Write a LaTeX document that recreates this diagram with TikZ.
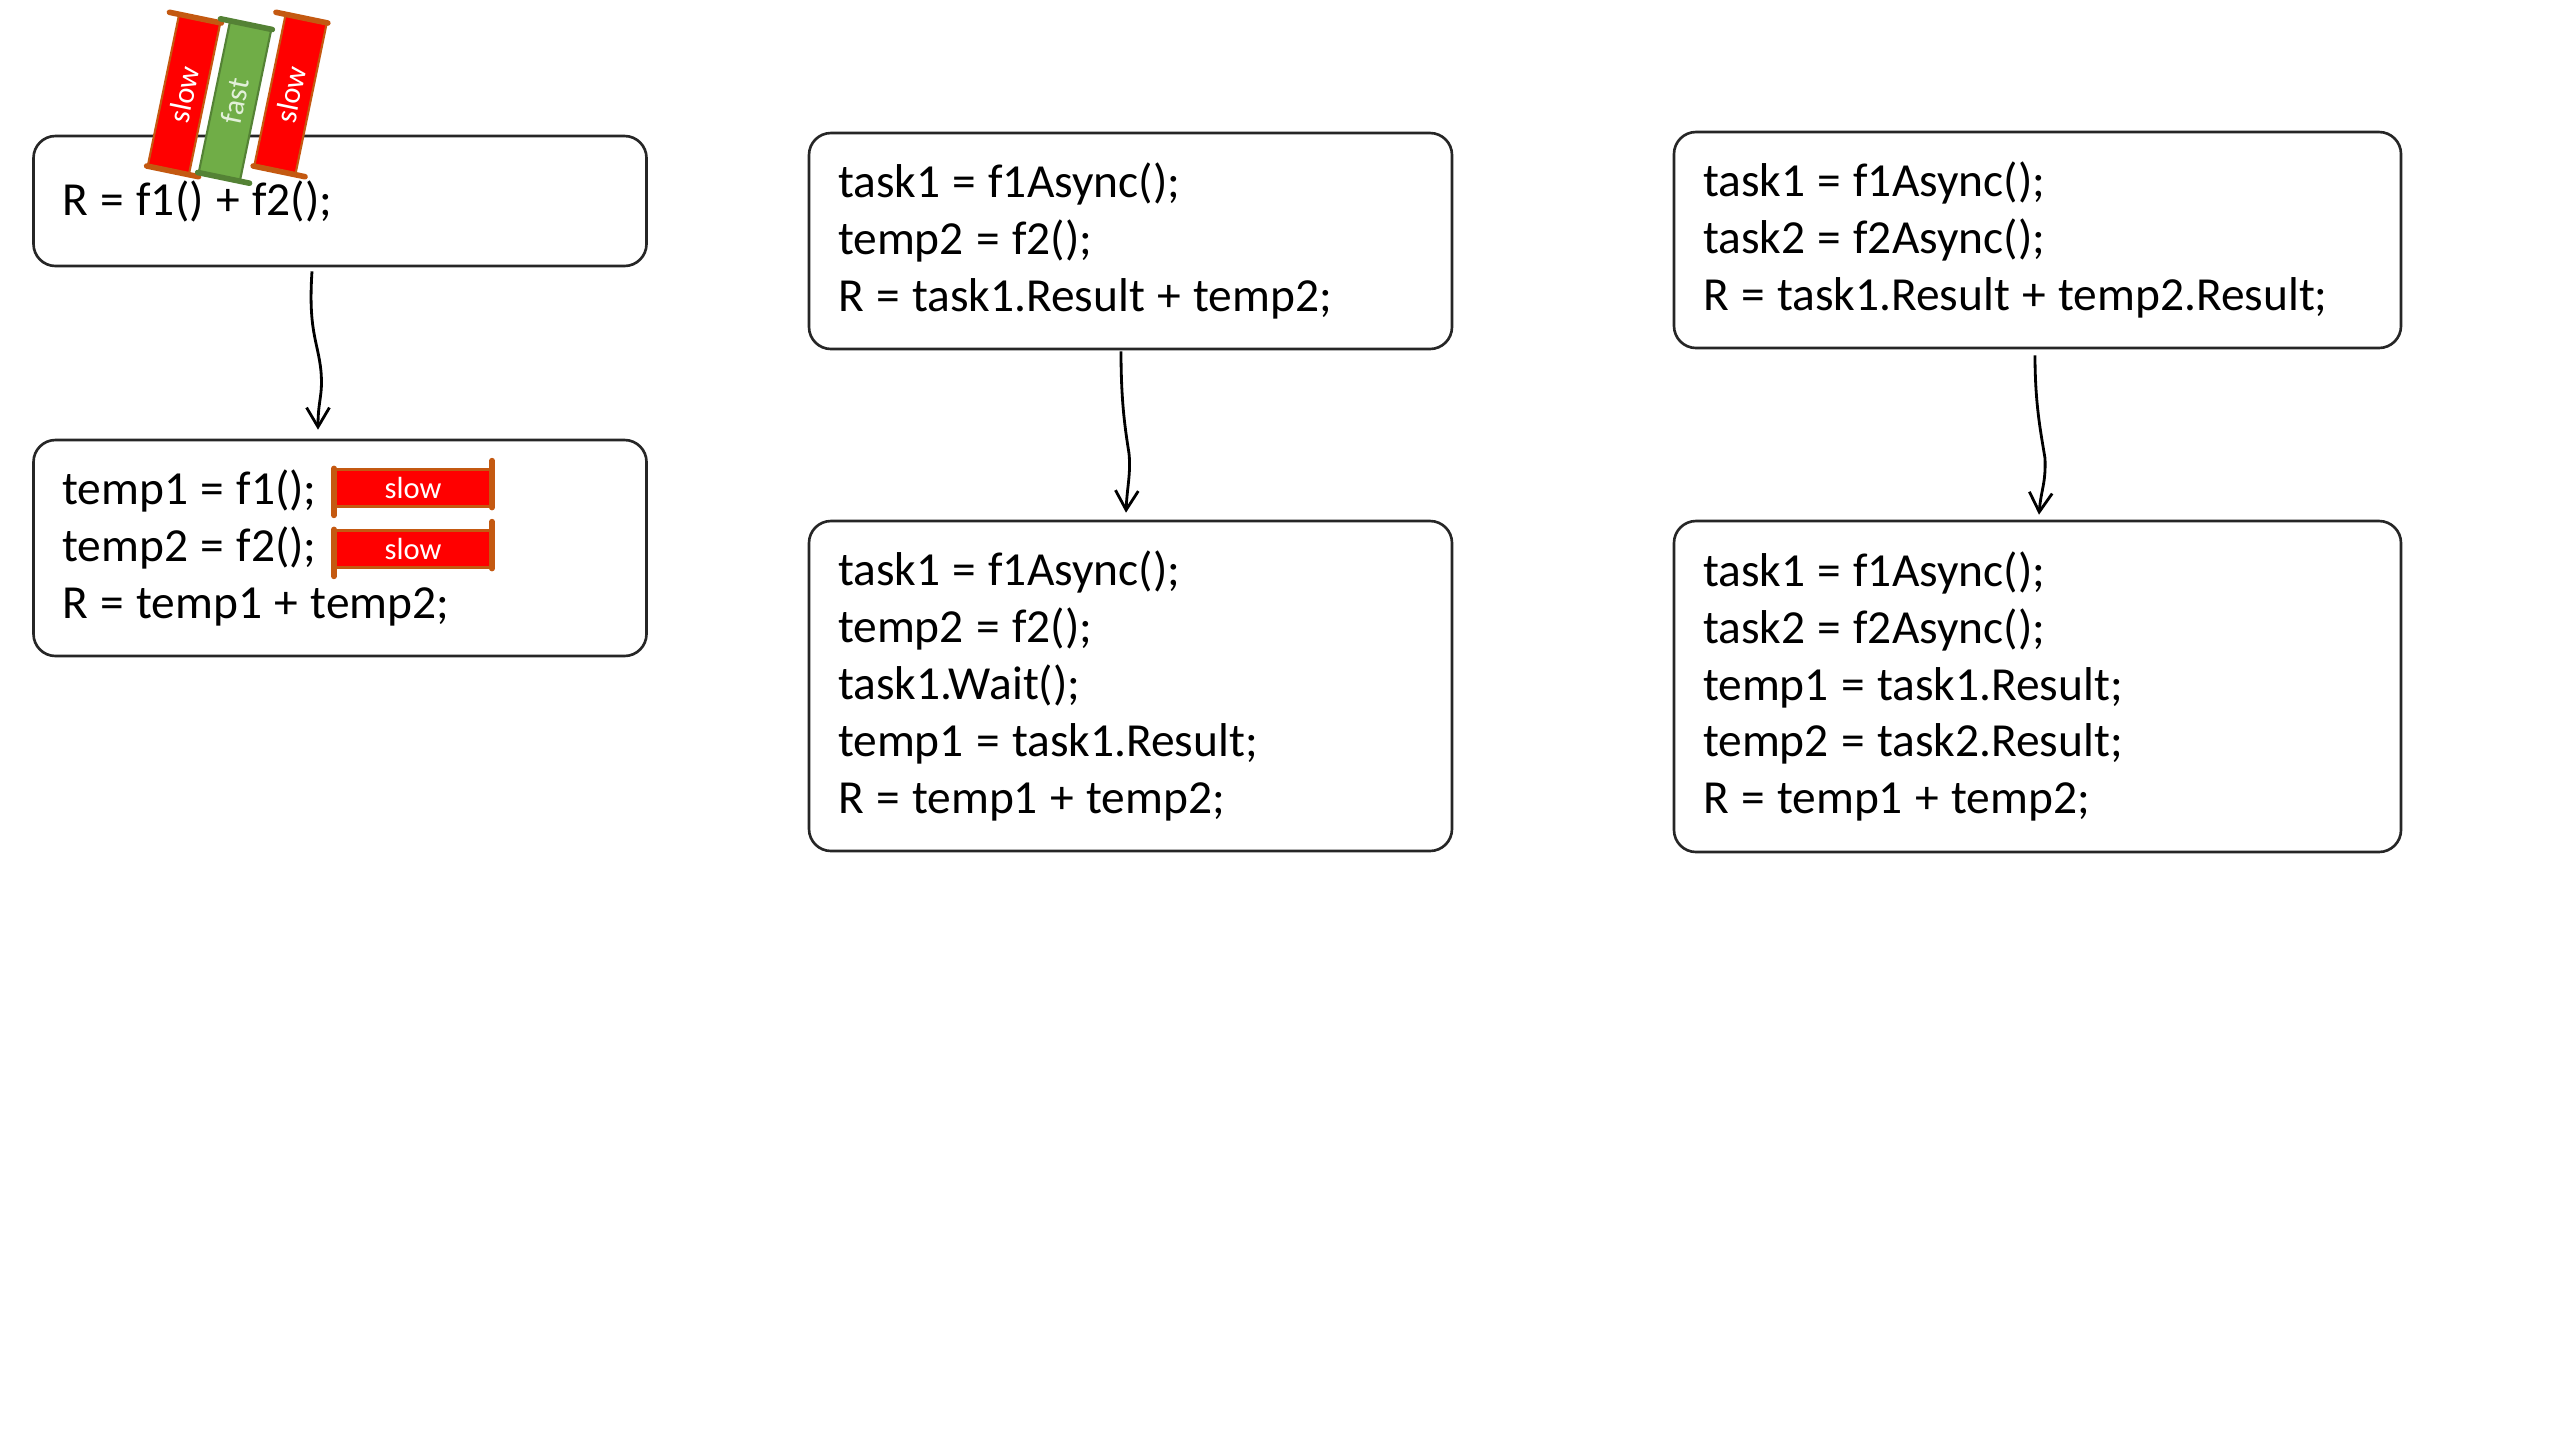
\documentclass[tikz,border=0pt]{standalone}
\usepackage{fontspec}
\setmainfont{Carlito}
\usetikzlibrary{arrows.meta,calc}

\definecolor{slowred}{RGB}{255,0,0}
\definecolor{slowedge}{RGB}{196,89,17}
\definecolor{fastgreen}{RGB}{112,173,71}
\definecolor{fastedge}{RGB}{84,130,53}
\definecolor{fasttext}{RGB}{226,240,217}

\tikzset{
  codebox/.style={draw=black!85, line width=0.75pt, rounded corners=0.22cm, align=left,
    inner xsep=0.29cm, inner ysep=0pt, font=\fontsize{13.5}{16.2}\selectfont,
    execute at begin node={\spaceskip=0.26em\relax}},
  slowtag/.style={fill=slowred, draw=slowedge, line width=0.6pt, text=white, inner sep=0pt,
    font=\fontsize{8.7}{10}\selectfont},
  fasttag/.style={slowtag, fill=fastgreen, draw=fastedge, text=fasttext},
  roll/.style={line width=1.6pt, line cap=round},
  flow/.style={->, >={Straight Barb[length=5.5pt,width=6.5pt]}, line width=0.8pt},
}

\begin{document}
\begin{tikzpicture}
    \useasboundingbox[fill=white] (0,0) rectangle (25.6,-14.4);

    % plain call
    \node[codebox, text width=5.55cm, minimum height=1.30cm] (plain) at (3.40,-2.01) {R = f1() + f2();};
    \node[codebox, text width=5.55cm, minimum height=2.16cm] (plainsplit) at (3.40,-5.48)
        {temp1 = f1();\\ temp2 = f2();\\ R = temp1 + temp2;};

    \node[slowtag, rotate=78.3, minimum width=1.53cm, minimum height=0.42cm] (rollslowa) at (1.84,-0.945) {slow};
    \node[fasttag, rotate=78.3, minimum width=1.53cm, minimum height=0.42cm] (rollfast) at (2.35,-1.01) {fast};
    \node[slowtag, rotate=78.3, minimum width=1.53cm, minimum height=0.42cm] (rollslowb) at (2.905,-0.945) {slow};
    \node[slowtag, minimum width=1.56cm, minimum height=0.37cm] (slowa) at (4.13,-4.88) {slow};
    \node[slowtag, minimum width=1.56cm, minimum height=0.37cm] (slowb) at (4.13,-5.49) {slow};
    \foreach \tagname/\rollcol in {rollslowa/slowedge, rollfast/fastedge, rollslowb/slowedge, slowa/slowedge, slowb/slowedge} {
        \draw[roll, \rollcol] (\tagname.north west) -- ($(\tagname.north west)!1.2!(\tagname.south west)$);
        \draw[roll, \rollcol] (\tagname.south east) -- ($(\tagname.south east)!1.2!(\tagname.north east)$);
    }

    % one task
    \node[codebox, text width=5.85cm, minimum height=2.16cm] (async1) at (11.305,-2.41)
        {task1 = f1Async();\\ temp2 = f2();\\ R = task1.Result + temp2;};
    \node[codebox, text width=5.85cm, minimum height=3.30cm] (async1split) at (11.305,-6.86)
        {task1 = f1Async();\\ temp2 = f2();\\ task1.Wait();\\ temp1 = task1.Result;\\ R = temp1 + temp2;};

    % two tasks
    \node[codebox, text width=6.69cm, minimum height=2.16cm] (async2) at (20.375,-2.40)
        {task1 = f1Async();\\ task2 = f2Async();\\ R = task1.Result + temp2.Result;};
    \node[codebox, text width=6.69cm, minimum height=3.31cm] (async2split) at (20.375,-6.865)
        {task1 = f1Async();\\ task2 = f2Async();\\ temp1 = task1.Result;\\ temp2 = task2.Result;\\ R = temp1 + temp2;};

    \draw[flow] ([xshift=-2.8mm,yshift=-0.4mm]plain.south) .. controls +(-0.04,-0.6) and +(-0.03,0.3) .. ++(0.09,-1.0)
        .. controls +(0.02,-0.25) and +(0,0.3) .. ([xshift=-2.2mm,yshift=0.9mm]plainsplit.north);
    \draw[flow] ([xshift=-0.95mm,yshift=-0.1mm]async1.south) .. controls +(0,-0.5) and +(-0.04,0.25) .. ++(0.08,-1.02)
        .. controls +(0.02,-0.2) and +(0.01,0.25) .. ([xshift=-0.45mm,yshift=0.7mm]async1split.north);
    \draw[flow] ([xshift=-0.25mm,yshift=-0.6mm]async2.south) .. controls +(0,-0.5) and +(-0.04,0.25) .. ++(0.10,-1.03)
        .. controls +(0.01,-0.25) and +(0.02,0.25) .. ([xshift=0.15mm,yshift=0.5mm]async2split.north);
\end{tikzpicture}
\end{document}
